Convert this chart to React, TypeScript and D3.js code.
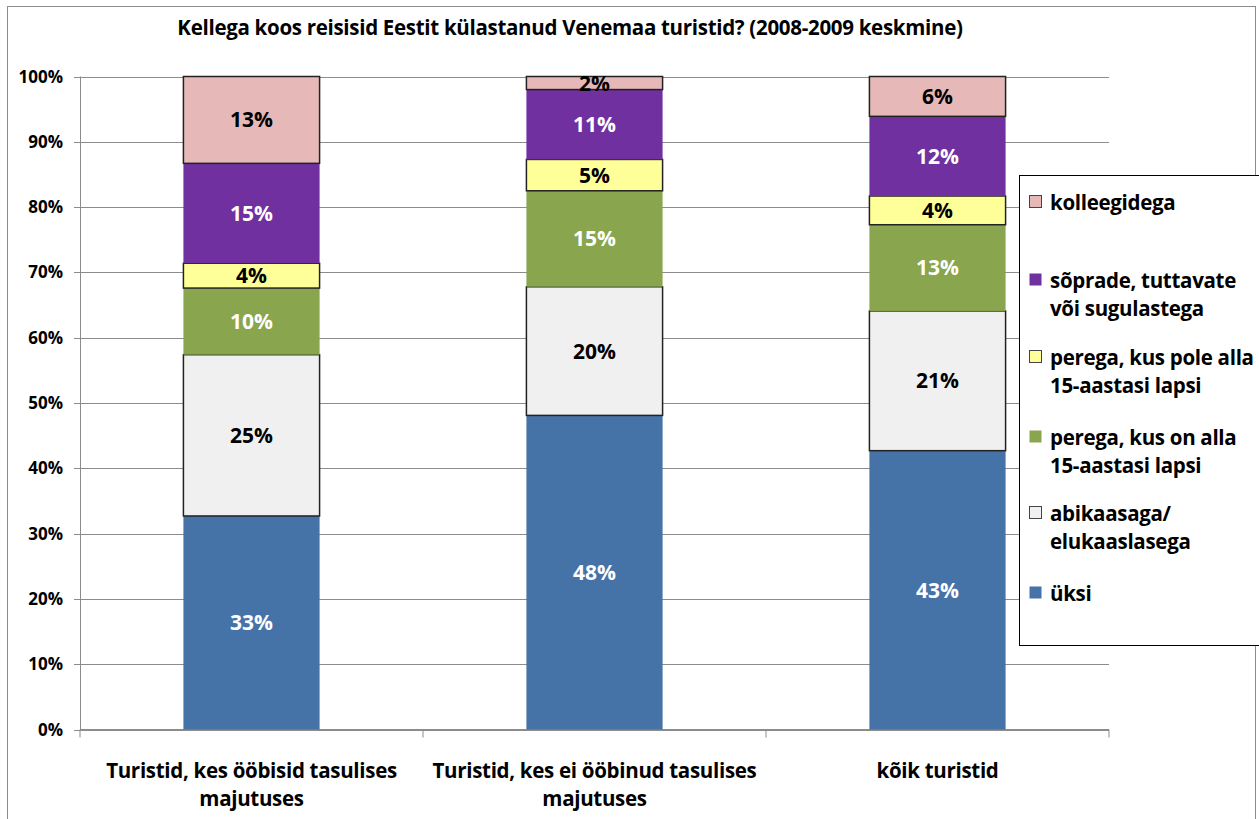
import React from "react";
import * as d3 from "d3";

const categories = [
  ["Turistid, kes ööbisid tasulises", "majutuses"],
  ["Turistid, kes ei ööbinud tasulises", "majutuses"],
  ["kõik turistid"],
];
const seriesNames = [
  "üksi",
  "abikaasaga/ elukaaslasega",
  "perega, kus on alla 15-aastasi lapsi",
  "perega, kus pole alla 15-aastasi lapsi",
  "sõprade, tuttavate või sugulastega",
  "kolleegidega",
];
const legendLines = [
  ["üksi"],
  ["abikaasaga/", "elukaaslasega"],
  ["perega, kus on alla", "15-aastasi lapsi"],
  ["perega, kus pole alla", "15-aastasi lapsi"],
  ["sõprade, tuttavate", "või sugulastega"],
  ["kolleegidega"],
];
const yksi = [32.7, 48.1, 42.7];
const abikaasaga = [24.7, 19.7, 21.4];
const peregaOn = [10.2, 14.7, 13.2];
const peregaPole = [3.8, 4.8, 4.4];
const soprade = [15.3, 10.7, 12.2];
const kolleegidega = [13.3, 2.0, 6.1];
const yTicks = [0, 10, 20, 30, 40, 50, 60, 70, 80, 90, 100];
const title = "Kellega koos reisisid Eestit külastanud Venemaa turistid? (2008-2009 keskmine)";

const colors = ["#4572A7", "#F0F0F0", "#89A54E", "#FFFF99", "#7030A0", "#E6B9B8"];
const bordered = [false, true, false, true, false, true];
const labelColor = ["#fff", "#000", "#fff", "#000", "#fff", "#000"];

export default function App() {
  const W = 1259, H = 819;
  const left = 80, right = 1109, top = 76.5, bottom = 729.5;
  const FONT = "'Open Sans', Lato, sans-serif";
  const seriesVals = [yksi, abikaasaga, peregaOn, peregaPole, soprade, kolleegidega];
  const rows = categories.map((_, i) => {
    const r: any = { i };
    seriesVals.forEach((s, k) => (r["s" + k] = s[i]));
    return r;
  });
  const stack = d3.stack().keys(seriesVals.map((_, k) => "s" + k))(rows);
  const x = d3.scaleBand<number>().domain(categories.map((_, i) => i)).range([left, right]).padding(0);
  const y = d3.scaleLinear().domain([0, 100]).range([bottom, top]);
  const bw = x.bandwidth() * 0.397;
  const fmt = (v: number) => Math.round(v) + "%";

  return (
    <svg width={W} height={H} style={{ display: "block", position: "absolute", left: 0, top: 0 }} fontFamily={FONT}>
      <rect x={0} y={0} width={W} height={H} fill="#fff" />
      <rect x={7.5} y={6.5} width={1248} height={830} fill="none" stroke="#8c8c8c" strokeWidth={1} />
      <text x={570} y={35} textAnchor="middle" fontSize={20.5} fontWeight="bold" letterSpacing={-0.3}>{title}</text>
      {yTicks.map((t) => (
        <g key={t}>
          <line x1={left} x2={right} y1={Math.round(y(t)) + 0.5} y2={Math.round(y(t)) + 0.5} stroke="#8c8c8c" strokeWidth={1} />
          <line x1={left - 6} x2={left} y1={Math.round(y(t)) + 0.5} y2={Math.round(y(t)) + 0.5} stroke="#8c8c8c" />
          <text x={63} y={y(t) + 6} textAnchor="end" fontSize={17} fontWeight="bold">{t}%</text>
        </g>
      ))}
      <line x1={left + 0.5} x2={left + 0.5} y1={top} y2={bottom} stroke="#8c8c8c" />
      <line x1={left} x2={right} y1={bottom + 0.5} y2={bottom + 0.5} stroke="#8c8c8c" strokeWidth={2} />
      {[0, 1, 2, 3].map((k) => {
        const xx = k < 3 ? x(k)! : right;
        return <line key={k} x1={xx} x2={xx} y1={bottom} y2={bottom + 8} stroke="#8c8c8c" />;
      })}
      {stack.map((layer, k) =>
        layer.map((d, i) => {
          const cx = x(i)! + x.bandwidth() / 2;
          const y0 = y(d[0]), y1 = y(d[1]);
          return (
            <g key={k + "-" + i}>
              <rect x={cx - bw / 2} y={y1} width={bw} height={y0 - y1} fill={colors[k]}
                stroke={bordered[k] ? "#222" : "none"} strokeWidth={bordered[k] ? 1.5 : 0} />
            </g>
          );
        })
      )}
      {stack.map((layer, k) =>
        layer.map((d, i) => {
          const cx = x(i)! + x.bandwidth() / 2;
          const ym = (y(d[0]) + y(d[1])) / 2;
          return (
            <text key={"t" + k + "-" + i} x={cx} y={ym + 7.5} textAnchor="middle" fontSize={21} fontWeight="bold" fill={labelColor[k]}>
              {fmt(d[1] - d[0])}
            </text>
          );
        })
      )}
      {categories.map((lines, i) => (
        <text key={"c" + i} x={x(i)! + x.bandwidth() / 2} y={778} textAnchor="middle" fontSize={20.5} fontWeight="bold" letterSpacing={-0.3}>
          {lines.map((l, j) => (
            <tspan key={j} x={x(i)! + x.bandwidth() / 2} dy={j === 0 ? 0 : 28}>{l}</tspan>
          ))}
        </text>
      ))}
      <rect x={1019.5} y={175.5} width={250} height={470} fill="#fff" stroke="#000" strokeWidth={1} />
      {(() => {
        const order = [5, 4, 3, 2, 1, 0];
        const ys = [202, 280, 357, 437, 513, 593];
        return order.map((k, j) => (
          <g key={"l" + k}>
            <rect x={1029.5} y={ys[j] - 6.5} width={12} height={12} fill={colors[k]} stroke={bordered[k] ? "#444" : "none"} strokeWidth={1} />
            <text x={1050} y={ys[j] + 7.5} fontSize={20.5} fontWeight="bold" letterSpacing={-0.3}>
              {legendLines[k].map((l, m) => (
                <tspan key={m} x={1050} dy={m === 0 ? 0 : 28}>{l}</tspan>
              ))}
            </text>
          </g>
        ));
      })()}
    </svg>
  );
}
